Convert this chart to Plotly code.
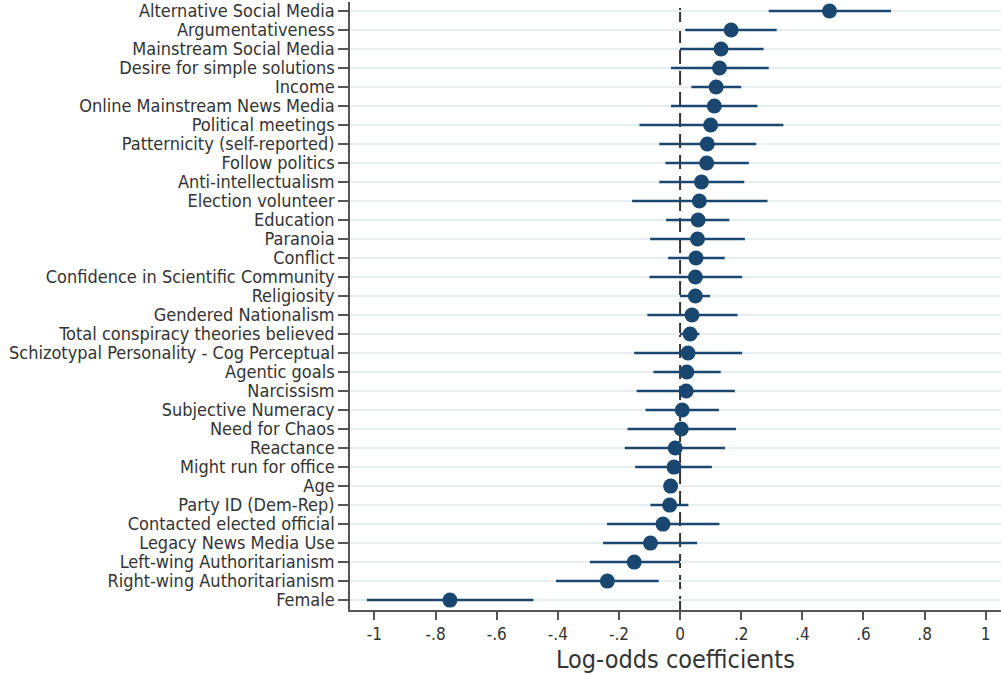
import plotly.graph_objects as go

labels = [
    "Alternative Social Media", "Argumentativeness", "Mainstream Social Media",
    "Desire for simple solutions", "Income", "Online Mainstream News Media",
    "Political meetings", "Patternicity (self-reported)", "Follow politics",
    "Anti-intellectualism", "Election volunteer", "Education", "Paranoia",
    "Conflict", "Confidence in Scientific Community", "Religiosity",
    "Gendered Nationalism", "Total conspiracy theories believed",
    "Schizotypal Personality - Cog Perceptual", "Agentic goals", "Narcissism",
    "Subjective Numeracy", "Need for Chaos", "Reactance", "Might run for office",
    "Age", "Party ID (Dem-Rep)", "Contacted elected official",
    "Legacy News Media Use", "Left-wing Authoritarianism",
    "Right-wing Authoritarianism", "Female",
]
estimate = [0.489, 0.167, 0.134, 0.129, 0.118, 0.112, 0.100, 0.089, 0.087, 0.070,
            0.063, 0.059, 0.057, 0.052, 0.050, 0.050, 0.039, 0.033, 0.026, 0.022,
            0.020, 0.007, 0.004, -0.016, -0.020, -0.031, -0.034, -0.056, -0.097,
            -0.150, -0.238, -0.753]
ci_low = [0.290, 0.017, 0.000, -0.030, 0.037, -0.030, -0.133, -0.068, -0.048, -0.068,
          -0.157, -0.046, -0.098, -0.039, -0.100, 0.000, -0.107, 0.000, -0.150, -0.087,
          -0.142, -0.113, -0.172, -0.181, -0.147, -0.045, -0.097, -0.239, -0.252,
          -0.295, -0.406, -1.025]
ci_high = [0.690, 0.316, 0.273, 0.290, 0.200, 0.253, 0.338, 0.249, 0.225, 0.210,
           0.286, 0.161, 0.212, 0.146, 0.203, 0.098, 0.188, 0.063, 0.203, 0.133,
           0.179, 0.127, 0.183, 0.147, 0.104, -0.018, 0.027, 0.129, 0.056,
           0.000, -0.070, -0.480]

x_tickvals = [-1, -0.8, -0.6, -0.4, -0.2, 0, 0.2, 0.4, 0.6, 0.8, 1]
x_ticktext = ["-1", "-.8", "-.6", "-.4", "-.2", "0", ".2", ".4", ".6", ".8", "1"]
x_title = "Log-odds coefficients"

FONT = "Liberation Sans Narrow, DejaVu Sans Condensed, Arial Narrow, sans-serif"
NAVY = "#1a476f"

fig = go.Figure()
fig.add_trace(go.Scatter(
    x=estimate, y=labels, mode="markers",
    marker=dict(size=15, color=NAVY),
    error_x=dict(type="data", symmetric=False,
                 array=[h - e for h, e in zip(ci_high, estimate)],
                 arrayminus=[e - l for e, l in zip(estimate, ci_low)],
                 color=NAVY, thickness=2.5, width=0),
    cliponaxis=False, showlegend=False,
))

fig.add_shape(type="line", xref="x", yref="y domain", x0=0, x1=0, y0=0, y1=0.99,
              line=dict(color="#333333", width=2, dash="14px,7px"), layer="below")

fig.add_annotation(text=x_title, xref="paper", yref="paper", x=0.5, y=-0.107,
                   xanchor="center", yanchor="bottom", showarrow=False, borderpad=0,
                   font=dict(size=25, family=FONT, color="#333333"))

fig.update_layout(
    width=1001, height=675,
    margin=dict(l=350, r=0, t=0, b=65),
    paper_bgcolor="white", plot_bgcolor="white",
    font=dict(family=FONT, size=18, color="#333333"),
    xaxis=dict(
        range=[-1.08, 1.05], tickvals=x_tickvals, ticktext=x_ticktext,
        showgrid=False, zeroline=False,
        showline=True, linecolor="#555555", linewidth=1.5,
        ticks="outside", ticklen=8, tickwidth=1.5, tickcolor="#555555",
        tickfont=dict(size=17),
    ),
    yaxis=dict(
        type="category", categoryorder="array", categoryarray=labels[::-1],
        tickmode="array", tickvals=labels, ticktext=labels,
        range=[-0.52, 31.47],
        showgrid=True, gridcolor="#e6eef0", gridwidth=1.5,
        showline=True, linecolor="#555555", linewidth=1.5,
        ticks="outside", ticklen=10, tickwidth=1.5, tickcolor="#555555",
        tickfont=dict(size=18), zeroline=False,
    ),
)

fig.write_html("out.html", config={"displayModeBar": False},
               post_script="document.body.style.margin='0';")
